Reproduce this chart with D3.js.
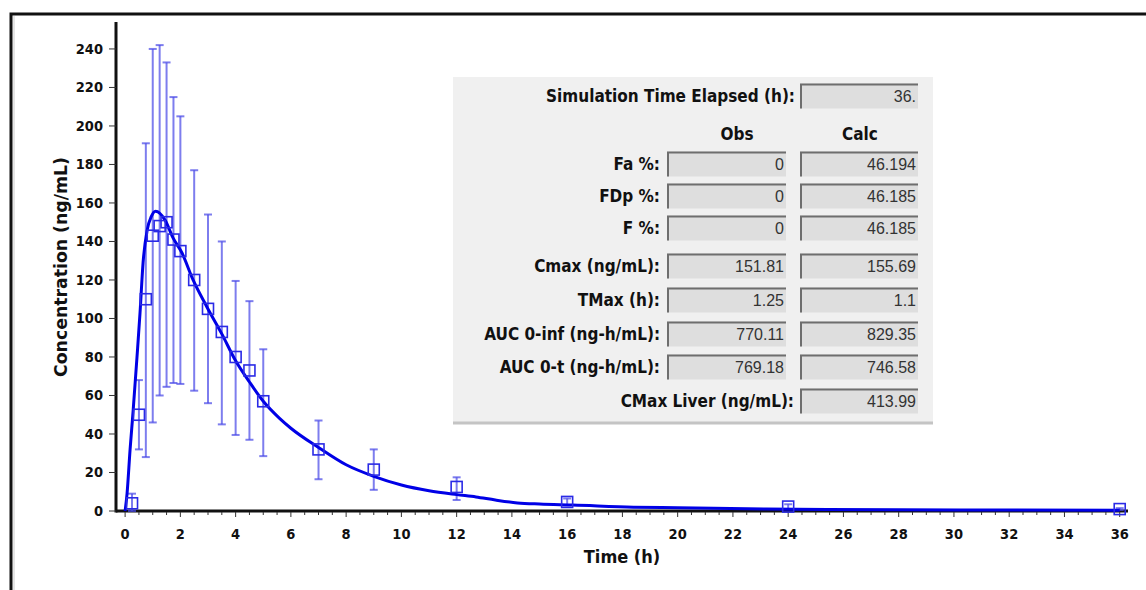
<!DOCTYPE html>
<html lang="en">
<head>
<meta charset="UTF-8" />
<title>Concentration vs Time</title>
<style>
  body {
    margin: 0;
    background: #ffffff;
  }
  .tick-label {
    font-family: 'DejaVu Sans Condensed', 'DejaVu Sans', sans-serif;
    font-weight: bold;
    font-size: 14.5px;
    fill: #111;
  }
  .axis-title {
    font-family: 'DejaVu Sans Condensed', 'DejaVu Sans', sans-serif;
    font-weight: bold;
    font-size: 18px;
    fill: #111;
  }
  .stat-label {
    font-family: 'DejaVu Sans Condensed', 'DejaVu Sans', sans-serif;
    font-weight: bold;
    font-size: 17px;
    fill: #111;
  }
  .field-text {
    font-family: 'Liberation Sans', Arial, sans-serif;
    font-size: 16px;
    fill: #333;
  }
</style>
<script src="https://d3js.org/d3.v7.min.js"></script>
</head>
<body>
<div id="chart"></div>
<script>
  // Observed data (mean with error bars)
  const obsTime = [0.25, 0.5, 0.75, 1, 1.25, 1.5, 1.75, 2, 2.5, 3, 3.5, 4, 4.5, 5, 7, 9, 12, 16, 24, 36];
  const obsMean = [4, 50, 110, 143, 148, 150, 141, 135, 120, 105, 93, 80, 73, 57, 32, 21.5, 12.5, 4.7, 2.3, 1];
  const obsLow  = [0, 32, 28, 46, 60, 64.5, 66.5, 66, 62.5, 56, 45, 39.5, 37, 28.5, 16.5, 11, 5.7, 3, 1, 0.5];
  const obsHigh = [9, 68, 191, 240, 242, 233, 215, 205, 177, 154, 140, 119.5, 109, 84, 47, 32, 17.5, 6.5, 3.5, 1.5];

  // Simulated curve
  const simTime = [0, 0.07, 0.18, 0.29, 0.43, 0.54, 0.65, 0.8, 0.95, 1.1, 1.45, 1.73, 2.06, 2.46, 2.96, 3.5, 4, 4.5, 5,
                   5.6, 6, 7, 8, 9, 10, 11, 12, 12.7, 13.4, 14.2, 15, 16.2, 18.4, 20, 23.2, 28, 32, 36];
  const simConc = [0, 9, 32, 52, 80, 103, 129, 146, 153, 155.69, 151, 142, 134, 120, 106, 92, 78, 67, 57,
                   48, 43, 33, 24, 18, 13.5, 10.5, 8.5, 7.3, 5.7, 4.2, 3.6, 3.1, 2, 1.7, 1, 0.7, 0.5, 0.4];

  // Axis ticks
  const xTicks = d3.range(0, 37, 2);
  const xMinor = d3.range(0, 36.5, 0.5);
  const yTicks = d3.range(0, 241, 20);

  // Result panel
  const simElapsed = '36.';
  const statLabels = ['Fa %:', 'FDp %:', 'F %:', 'Cmax (ng/mL):', 'TMax (h):', 'AUC 0-inf (ng-h/mL):', 'AUC 0-t (ng-h/mL):'];
  const statObs  = ['0', '0', '0', '151.81', '1.25', '770.11', '769.18'];
  const statCalc = ['46.194', '46.185', '46.185', '155.69', '1.1', '829.35', '746.58'];
  const liverLabel = 'CMax Liver (ng/mL):';
  const liverValue = '413.99';

  const width = 1146, height = 590;
  const svg = d3.select('#chart').append('svg')
    .attr('width', width)
    .attr('height', height);

  // window frame (top and left edges visible)
  svg.append('path')
    .attr('d', 'M11,590 V14 H1146')
    .attr('fill', 'none')
    .attr('stroke', '#111')
    .attr('stroke-width', 3);
  svg.append('line')
    .attr('x1', 14).attr('y1', 16).attr('x2', 14).attr('y2', 590)
    .attr('stroke', '#ccc');

  const x = d3.scaleLinear().domain([-0.33, 36.3]).range([116, 1128]);
  const y = d3.scaleLinear().domain([0, 254]).range([511, 22]);

  // axis lines
  svg.append('line')
    .attr('x1', x.range()[0]).attr('x2', x.range()[0])
    .attr('y1', y.range()[1]).attr('y2', y(0) + 1.5)
    .attr('stroke', '#111').attr('stroke-width', 3);
  svg.append('line')
    .attr('x1', x.range()[0]).attr('x2', x.range()[1])
    .attr('y1', y(0)).attr('y2', y(0))
    .attr('stroke', '#111').attr('stroke-width', 3);

  // x ticks
  svg.selectAll('.xminor').data(xMinor).enter().append('line')
    .attr('x1', d => x(d)).attr('x2', d => x(d))
    .attr('y1', y(0) + 1).attr('y2', d => y(0) + (d % 2 === 0 ? 6 : 4))
    .attr('stroke', '#333').attr('stroke-width', 1);
  svg.selectAll('.xlab').data(xTicks).enter().append('text')
    .attr('class', 'tick-label')
    .attr('x', d => x(d))
    .attr('y', y(0) + 28)
    .attr('text-anchor', 'middle')
    .text(d => d);

  // y ticks
  svg.selectAll('.ytick').data(yTicks).enter().append('line')
    .attr('x1', x.range()[0] - 7).attr('x2', x.range()[0])
    .attr('y1', d => y(d)).attr('y2', d => y(d))
    .attr('stroke', '#333').attr('stroke-width', 1);
  svg.selectAll('.ylab').data(yTicks).enter().append('text')
    .attr('class', 'tick-label')
    .attr('x', x.range()[0] - 13)
    .attr('y', d => y(d) + 5)
    .attr('text-anchor', 'end')
    .text(d => d);

  // axis titles
  svg.append('text')
    .attr('class', 'axis-title')
    .attr('x', (x.range()[0] + x.range()[1]) / 2)
    .attr('y', 563)
    .attr('text-anchor', 'middle')
    .text('Time (h)');
  svg.append('text')
    .attr('class', 'axis-title')
    .attr('transform', 'translate(67,267) rotate(-90)')
    .attr('text-anchor', 'middle')
    .attr('textLength', 220)
    .attr('lengthAdjust', 'spacingAndGlyphs')
    .text('Concentration (ng/mL)');

  // result panel
  const panel = { x: 453, y: 77, w: 480, h: 346 };
  svg.append('rect')
    .attr('x', panel.x).attr('y', panel.y)
    .attr('width', panel.w).attr('height', panel.h)
    .attr('fill', '#f0f0f0');
  svg.append('line')
    .attr('x1', panel.x).attr('x2', panel.x + panel.w)
    .attr('y1', panel.y + panel.h).attr('y2', panel.y + panel.h)
    .attr('stroke', '#c4c4c4').attr('stroke-width', 3);

  const obsCol = { x: 667, w: 119 };
  const calcCol = { x: 800, w: 118 };
  const fieldH = 25;

  function field(fx, cy, fw, txt) {
    const g = svg.append('g');
    const top = cy - fieldH / 2;
    g.append('rect')
      .attr('x', fx).attr('y', top)
      .attr('width', fw).attr('height', fieldH)
      .attr('fill', '#dedede');
    g.append('path')
      .attr('d', `M${fx + 1},${top + fieldH} V${top + 1} H${fx + fw}`)
      .attr('fill', 'none')
      .attr('stroke', '#6e6e6e')
      .attr('stroke-width', 2);
    g.append('text')
      .attr('class', 'field-text')
      .attr('x', fx + fw - 2)
      .attr('y', cy + 6)
      .attr('text-anchor', 'end')
      .text(txt);
  }

  function label(lx, cy, txt) {
    svg.append('text')
      .attr('class', 'stat-label')
      .attr('x', lx)
      .attr('y', cy + 6)
      .attr('text-anchor', 'end')
      .text(txt);
  }

  label(calcCol.x - 5, 96, 'Simulation Time Elapsed (h):');
  field(calcCol.x, 96, calcCol.w, simElapsed);

  svg.append('text').attr('class', 'stat-label')
    .attr('x', 737).attr('y', 140)
    .attr('text-anchor', 'middle').text('Obs');
  svg.append('text').attr('class', 'stat-label')
    .attr('x', 860).attr('y', 140)
    .attr('text-anchor', 'middle').text('Calc');

  const rowY = [164, 196, 228, 266, 300, 334, 367];
  statLabels.forEach((lab, i) => {
    label(obsCol.x - 7, rowY[i], lab);
    field(obsCol.x, rowY[i], obsCol.w, statObs[i]);
    field(calcCol.x, rowY[i], calcCol.w, statCalc[i]);
  });

  label(calcCol.x - 6, 401, liverLabel);
  field(calcCol.x, 401, calcCol.w, liverValue);

  // error bars
  const obs = obsTime.map((t, i) => ({ t, m: obsMean[i], lo: obsLow[i], hi: obsHigh[i] }));
  const bars = svg.append('g')
    .attr('stroke', '#4b4be8')
    .attr('stroke-opacity', 0.72)
    .attr('stroke-width', 2);
  obs.forEach(d => {
    bars.append('line')
      .attr('x1', x(d.t)).attr('x2', x(d.t))
      .attr('y1', y(d.lo)).attr('y2', y(d.hi));
    [d.lo, d.hi].forEach(v => {
      bars.append('line')
        .attr('x1', x(d.t) - 4).attr('x2', x(d.t) + 4)
        .attr('y1', y(v)).attr('y2', y(v));
    });
  });

  // simulated curve
  const sim = simTime.map((t, i) => ({ t, c: simConc[i] }));
  svg.append('path')
    .datum(sim)
    .attr('fill', 'none')
    .attr('stroke', '#0000e6')
    .attr('stroke-width', 3)
    .attr('d', d3.line().x(d => x(d.t)).y(d => y(d.c)).curve(d3.curveMonotoneX));

  // observed means (open squares)
  svg.selectAll('.obs').data(obs).enter().append('rect')
    .attr('x', d => x(d.t) - 5.5)
    .attr('y', d => y(d.m) - 5.5)
    .attr('width', 11).attr('height', 11)
    .attr('fill', 'none')
    .attr('stroke', '#2a2ae6')
    .attr('stroke-width', 1.6);
</script>
</body>
</html>
